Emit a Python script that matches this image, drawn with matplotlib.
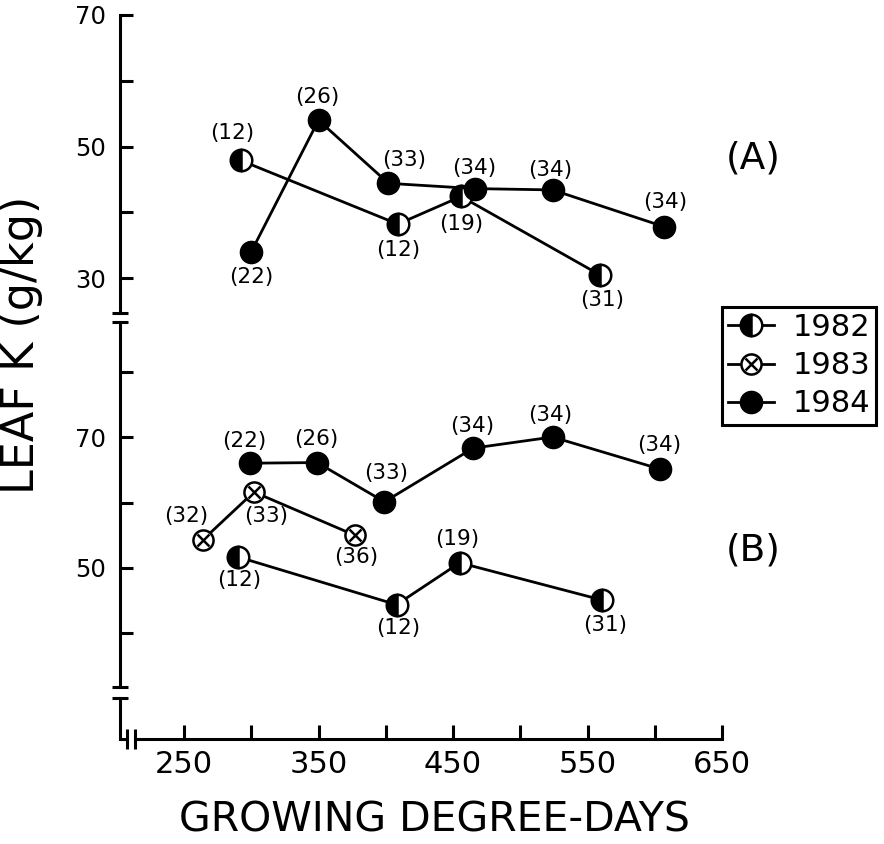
import matplotlib
matplotlib.use("Agg")
import matplotlib.pyplot as plt
import matplotlib.transforms as mtransforms
from matplotlib.lines import Line2D
from matplotlib.legend_handler import HandlerTuple

# ---------------- data ----------------
x_major = [250, 350, 450, 550, 650]
x_minor = [300, 400, 500, 600]
a_major = [30, 50, 70]
a_minor = [40, 60]
b_major = [50, 70]
b_minor = [40, 60, 80]

years = ["1982", "1983", "1984"]
panel_labels = ["(A)", "(B)"]
xlabel = "GROWING DEGREE-DAYS"
ylabel = "LEAF K (g/kg)"

# Panel A
a82_x = [292, 409, 456, 559]
a82_y = [47.9, 38.2, 42.4, 30.5]
a82_n = ["(12)", "(12)", "(19)", "(31)"]
a84_x = [300, 350, 402, 466, 524, 607]
a84_y = [34.0, 54.0, 44.4, 43.6, 43.4, 37.8]
a84_n = ["(22)", "(26)", "(33)", "(34)", "(34)", "(34)"]

# Panel B
b82_x = [290, 408, 455, 561]
b82_y = [51.7, 44.4, 50.8, 45.1]
b82_n = ["(12)", "(12)", "(19)", "(31)"]
b83_x = [264, 302, 377]
b83_y = [54.3, 61.6, 55.0]
b83_n = ["(32)", "(33)", "(36)"]
b84_x = [299, 349, 399, 465, 524, 604]
b84_y = [66.0, 66.1, 60.1, 68.3, 70.0, 65.1]
b84_n = ["(22)", "(26)", "(33)", "(34)", "(34)", "(34)"]

# label offsets (points) -- layout only
a82_off = [(-6, 20), (0, -19), (0, -20), (2, -18)]
a84_off = [(0, -18), (-1, 17), (11, 17), (0, 15), (-2, 14), (1, 18)]
b82_off = [(1, -17), (1, -17), (-2, 17), (2, -18)]
b83_off = [(-12, 17), (9, -17), (1, -16)]
b84_off = [(-4, 16), (-1, 17), (1, 21), (-1, 16), (-2, 16), (-1, 17)]

# ---------------- layout ----------------
W, H = 884, 844
plt.rcParams['font.family'] = ['DejaVu Sans']
fig = plt.figure(figsize=(W / 100, H / 100), dpi=100)


def fx(px):
    return px / W


def fy(py):
    return 1 - py / H


LEFT, RIGHT = 120, 722
XLIM = (202.4, 650)
LW = 2.2

ax_a = fig.add_axes([fx(LEFT), fy(313), fx(RIGHT) - fx(LEFT), fy(15) - fy(313)])
ax_b = fig.add_axes([fx(LEFT), fy(687), fx(RIGHT) - fx(LEFT), fy(322) - fy(687)])
ax_x = fig.add_axes([fx(LEFT), fy(739), fx(RIGHT) - fx(LEFT), fy(698) - fy(739)])

ax_a.set_ylim(24.68, 70)
ax_b.set_ylim(31.83, 87.56)

for ax in (ax_a, ax_b, ax_x):
    ax.set_xlim(*XLIM)
    ax.patch.set_visible(False)
    for s in ("top", "right"):
        ax.spines[s].set_visible(False)
    ax.spines["left"].set_linewidth(LW)
    ax.spines["bottom"].set_linewidth(LW)

for ax, maj, mnr in ((ax_a, a_major, a_minor), (ax_b, b_major, b_minor)):
    ax.spines["bottom"].set_visible(False)
    ax.set_xticks([])
    ax.set_yticks(maj)
    ax.set_yticks(mnr, minor=True)
    ax.tick_params(axis="y", which="both", direction="in", length=9, width=LW,
                   labelsize=17.5, pad=10)

ax_x.set_yticks([])
ax_x.set_xticks(x_major)
ax_x.set_xticks(x_minor, minor=True)
ax_x.tick_params(axis="x", which="both", direction="in", length=10, width=LW,
                 labelsize=22, pad=8)
BRK1, BRK2 = 207.6, 213.5
ax_x.spines["bottom"].set_bounds(BRK2, XLIM[1])
trx = mtransforms.blended_transform_factory(ax_x.transData, ax_x.transAxes)
ax_x.plot([XLIM[0], BRK1], [0, 0], color="black", lw=LW, transform=trx,
          clip_on=False, solid_capstyle="butt")
ax_x.plot([BRK1, BRK2], [0, 0], ls="none", marker="|", ms=14, mew=LW,
          color="black", transform=trx, clip_on=False)

# y-axis break marks
ax_a.plot([0], [0], marker="_", ms=12, mew=LW, color="black",
          transform=ax_a.transAxes, clip_on=False)
ax_b.plot([0, 0], [0, 1], ls="none", marker="_", ms=12, mew=LW, color="black",
          transform=ax_b.transAxes, clip_on=False)
ax_x.plot([0], [1], marker="_", ms=12, mew=LW, color="black",
          transform=ax_x.transAxes, clip_on=False)

LINE_W = 2.0
st82 = dict(color="black", lw=LINE_W, marker="o", ms=15.5, fillstyle="left",
            mfc="black", mfcalt="white", mec="black", mew=1.8)
st84 = dict(color="black", lw=LINE_W, marker="o", ms=16, mfc="black", mec="black")
st83 = dict(color="black", lw=LINE_W, marker="o", ms=14.5, mfc="white",
            mec="black", mew=1.8)
st83x = dict(ls="none", marker="x", ms=8, mec="black", mew=1.8)


def annotate(ax, xs, ys, ns, offs):
    for x, y, n, (dx, dy) in zip(xs, ys, ns, offs):
        ax.annotate(n, (x, y), xytext=(dx, dy), textcoords="offset points",
                    ha="center", va="center", fontsize=15.5)


ax_a.plot(a82_x, a82_y, **st82, clip_on=False)
ax_a.plot(a84_x, a84_y, **st84, clip_on=False)
annotate(ax_a, a82_x, a82_y, a82_n, a82_off)
annotate(ax_a, a84_x, a84_y, a84_n, a84_off)

ax_b.plot(b82_x, b82_y, **st82, clip_on=False)
ax_b.plot(b84_x, b84_y, **st84, clip_on=False)
ax_b.plot(b83_x, b83_y, **st83, clip_on=False)
ax_b.plot(b83_x, b83_y, **st83x, clip_on=False)
annotate(ax_b, b82_x, b82_y, b82_n, b82_off)
annotate(ax_b, b83_x, b83_y, b83_n, b83_off)
annotate(ax_b, b84_x, b84_y, b84_n, b84_off)

# panel labels
fig.text(fx(753), fy(158), panel_labels[0], ha="center", va="center", fontsize=27)
fig.text(fx(753), fy(550), panel_labels[1], ha="center", va="center", fontsize=27)

# axis labels
fig.text(fx(22), fy(345), ylabel, rotation=90, ha="center", va="center", fontsize=32)
fig.text(fx(434), fy(821), xlabel, ha="center", va="center", fontsize=29.5)

# legend
h82 = Line2D([], [], **st82)
h83 = (Line2D([], [], **st83), Line2D([], [], **st83x))
h84 = Line2D([], [], **st84)
leg = fig.legend([h82, h83, h84], years, loc="upper left",
                 bbox_to_anchor=(fx(722), fy(307)), bbox_transform=fig.transFigure,
                 frameon=True, fancybox=False, edgecolor="black", framealpha=1,
                 fontsize=22, handlelength=1.5, handletextpad=0.6,
                 labelspacing=0.3, borderpad=0.2, borderaxespad=0,
                 handler_map={tuple: HandlerTuple(ndivide=1)})
leg.get_frame().set_linewidth(LW)

fig.savefig("out.png", dpi=100)
